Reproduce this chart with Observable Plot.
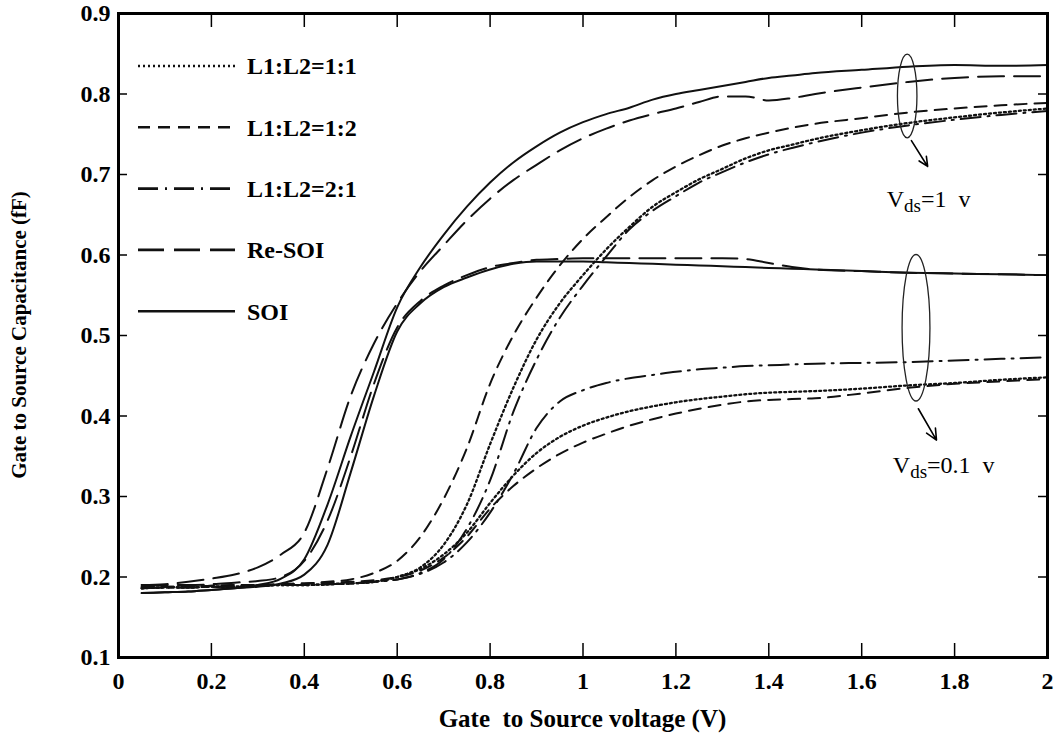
<!DOCTYPE html>
<html><head><meta charset="utf-8">
<script src="https://cdn.jsdelivr.net/npm/d3@7"></script>
<script src="https://cdn.jsdelivr.net/npm/@observablehq/plot@0.6"></script>
<style>
body{margin:0;background:#fff;}
#chart{width:1058px;height:740px;}
</style></head><body><div id="chart"></div>
<script>
// Gate-source voltage grid (V)
const vgs = [0.05,0.1,0.15,0.2,0.25,0.3,0.35,0.4,0.45,0.5,0.55,0.6,0.65,0.7,0.75,0.8,0.85,0.9,0.95,1.0,1.05,1.1,1.15,1.2,1.25,1.3,1.35,1.4,1.45,1.5,1.6,1.7,1.8,1.9,2.0];

// Vds = 1 V
const soi_1   = [0.180,0.181,0.182,0.184,0.186,0.190,0.198,0.222,0.290,0.375,0.455,0.535,0.585,0.625,0.660,0.690,0.715,0.735,0.752,0.765,0.775,0.783,0.793,0.800,0.805,0.810,0.815,0.820,0.823,0.826,0.830,0.834,0.836,0.835,0.836];
const reSoi_1 = [0.190,0.191,0.194,0.198,0.203,0.212,0.228,0.255,0.335,0.425,0.490,0.540,0.580,0.612,0.643,0.670,0.693,0.712,0.730,0.745,0.757,0.767,0.775,0.782,0.790,0.797,0.797,0.792,0.795,0.800,0.808,0.815,0.820,0.822,0.822];
const l11_1   = [0.186,0.187,0.187,0.188,0.188,0.189,0.190,0.190,0.191,0.192,0.194,0.200,0.212,0.240,0.290,0.365,0.435,0.495,0.540,0.575,0.607,0.635,0.660,0.678,0.694,0.707,0.720,0.730,0.737,0.744,0.755,0.764,0.771,0.777,0.782];
const l12_1   = [0.188,0.188,0.188,0.189,0.190,0.190,0.191,0.192,0.194,0.197,0.205,0.220,0.250,0.297,0.360,0.440,0.500,0.547,0.587,0.620,0.647,0.672,0.693,0.710,0.724,0.736,0.745,0.752,0.758,0.763,0.770,0.777,0.782,0.786,0.789];
const l21_1   = [0.186,0.187,0.187,0.188,0.188,0.189,0.190,0.190,0.191,0.192,0.194,0.197,0.205,0.222,0.260,0.320,0.405,0.470,0.522,0.562,0.598,0.632,0.655,0.673,0.690,0.703,0.715,0.725,0.733,0.740,0.752,0.761,0.768,0.774,0.779];

// Vds = 0.1 V
const soi_01   = [0.180,0.181,0.182,0.184,0.186,0.188,0.192,0.203,0.240,0.330,0.425,0.505,0.540,0.560,0.572,0.582,0.589,0.592,0.592,0.592,0.591,0.590,0.589,0.588,0.587,0.586,0.585,0.584,0.583,0.582,0.580,0.578,0.577,0.576,0.575];
const reSoi_01 = [0.190,0.190,0.190,0.191,0.193,0.195,0.200,0.220,0.270,0.350,0.440,0.510,0.543,0.562,0.575,0.585,0.590,0.594,0.595,0.596,0.596,0.596,0.596,0.596,0.596,0.596,0.595,0.590,0.585,0.582,0.580,0.578,0.577,0.576,0.575];
const l11_01   = [0.186,0.187,0.187,0.188,0.188,0.189,0.190,0.190,0.191,0.192,0.194,0.200,0.210,0.228,0.255,0.292,0.326,0.354,0.374,0.388,0.398,0.406,0.412,0.417,0.421,0.424,0.427,0.429,0.430,0.431,0.434,0.438,0.441,0.445,0.448];
const l12_01   = [0.188,0.188,0.188,0.189,0.190,0.190,0.191,0.192,0.193,0.194,0.196,0.200,0.208,0.224,0.250,0.285,0.313,0.335,0.353,0.367,0.378,0.388,0.396,0.403,0.409,0.414,0.418,0.420,0.421,0.422,0.428,0.435,0.440,0.443,0.446];
const l21_01   = [0.186,0.187,0.187,0.188,0.188,0.189,0.190,0.190,0.191,0.192,0.194,0.197,0.204,0.218,0.243,0.280,0.328,0.385,0.418,0.432,0.441,0.447,0.451,0.455,0.458,0.460,0.462,0.463,0.464,0.465,0.466,0.467,0.469,0.471,0.473];

const seriesNames = ["L1:L2=1:1","L1:L2=1:2","L1:L2=2:1","Re-SOI","SOI"];
const seriesDash  = ["2,3","12,8","20,7,2,7","26,10","none"];
const xTicks = [0,0.2,0.4,0.6,0.8,1,1.2,1.4,1.6,1.8,2];
const yTicks = [0.1,0.2,0.3,0.4,0.5,0.6,0.7,0.8,0.9];
const xLabel = "Gate  to Source voltage (V)";
const yLabel = "Gate to Source Capacitance (fF)";

// annotations (data units)
const ellipseCx = [1.699, 1.718];
const ellipseCy = [0.797, 0.509];
const ellipseRx = [0.021, 0.030];
const ellipseRy = [0.052, 0.091];
const arrowX1 = [1.707, 1.722], arrowY1 = [0.742, 0.409];
const arrowX2 = [1.742, 1.761], arrowY2 = [0.710, 0.370];
const annoX = [1.655, 1.668], annoY = [0.659, 0.329];
const annoVal = ["=1  v", "=0.1  v"];

const table = [];
function add(name, vds, arr) { arr.forEach((v, i) => table.push({vgs: vgs[i], cgs: v, name, vds})); }
add("L1:L2=1:1", 1, l11_1); add("L1:L2=1:2", 1, l12_1); add("L1:L2=2:1", 1, l21_1); add("Re-SOI", 1, reSoi_1); add("SOI", 1, soi_1);
add("L1:L2=1:1", 0.1, l11_01); add("L1:L2=1:2", 0.1, l12_01); add("L1:L2=2:1", 0.1, l21_01); add("Re-SOI", 0.1, reSoi_01); add("SOI", 0.1, soi_01);

const W = 1058, H = 740, mL = 118, mR = 11, mT = 13, mB = 83;
const pH = H - mT - mB, pW = W - mL - mR;
const FONT = "'Liberation Serif','Times New Roman',serif";

const lineMarks = [];
for (const vds of [1, 0.1]) {
  seriesNames.forEach((n, i) => {
    lineMarks.push(Plot.line(table.filter(d => d.name === n && d.vds === vds), {
      x: "vgs", y: "cgs", stroke: "#111", strokeWidth: i === 0 ? 2.3 : 2,
      strokeDasharray: seriesDash[i] === "none" ? null : seriesDash[i],
      curve: "monotone-x"
    }));
  });
}

const arrows = arrowX1.map((d, i) => ({x1: d, y1: arrowY1[i], x2: arrowX2[i], y2: arrowY2[i]}));

const plot = Plot.plot({
  width: W, height: H,
  marginLeft: mL, marginRight: mR, marginTop: mT, marginBottom: mB,
  style: {fontFamily: FONT, fontSize: "24px", fontWeight: "bold", color: "#000", background: "#fff"},
  x: {domain: [0, 2], ticks: xTicks, tickSize: 0, tickPadding: 14, tickFormat: d => String(d), label: null},
  y: {domain: [0.1, 0.9], ticks: yTicks, tickSize: 0, tickPadding: 8, tickFormat: d => d.toFixed(1), label: null},
  marks: [
    ...lineMarks,
    Plot.ruleX(xTicks, {x: d => d, insetTop: pH - 14, stroke: "#000", strokeWidth: 1.5}),
    Plot.ruleX(xTicks, {x: d => d, insetBottom: pH - 14, stroke: "#000", strokeWidth: 1.5}),
    Plot.ruleY(yTicks, {y: d => d, insetRight: pW - 9, stroke: "#000", strokeWidth: 1.5}),
    Plot.ruleY(yTicks, {y: d => d, insetLeft: pW - 9, stroke: "#000", strokeWidth: 1.5}),
    Plot.arrow(arrows, {x1: "x1", y1: "y1", x2: "x2", y2: "y2", stroke: "#000", strokeWidth: 1.6, headLength: 12, headAngle: 50}),
    Plot.frame({stroke: "#000", strokeWidth: 3})
  ]
});
document.getElementById("chart").appendChild(plot);

// post-processing: axis titles, ellipses, annotation text with subscripts, legend
const sx = plot.scale("x"), sy = plot.scale("y");
const svg = d3.select(plot);
const g = svg.append("g").attr("text-anchor", "start");
g.append("text").attr("x", mL + pW / 2).attr("y", 727).attr("text-anchor", "middle")
  .attr("font-family", FONT).attr("font-size", 25).attr("font-weight", "bold").attr("fill", "#000").text(xLabel);
g.append("text").attr("transform", `translate(26,${mT + pH / 2}) rotate(-90)`).attr("text-anchor", "middle")
  .attr("font-family", FONT).attr("font-size", 21).attr("font-weight", "bold").attr("fill", "#000").text(yLabel);
ellipseCx.forEach((cx, i) => {
  const px = sx.apply(cx), py = sy.apply(ellipseCy[i]);
  g.append("ellipse").attr("cx", px).attr("cy", py)
    .attr("rx", sx.apply(cx + ellipseRx[i]) - px)
    .attr("ry", py - sy.apply(ellipseCy[i] + ellipseRy[i]))
    .attr("fill", "none").attr("stroke", "#222").attr("stroke-width", 1.3);
});
annoX.forEach((ax, i) => {
  const t = g.append("text").attr("x", sx.apply(ax)).attr("y", sy.apply(annoY[i]))
    .attr("font-family", FONT).attr("font-size", 24).attr("font-weight", "normal").attr("fill", "#000");
  t.append("tspan").text("V");
  t.append("tspan").attr("font-size", 19).attr("dy", 5).text("ds");
  t.append("tspan").attr("dy", -5).text(annoVal[i]);
});
const lg = svg.append("g").attr("transform", `translate(${mL},${mT})`).attr("text-anchor", "start");
seriesNames.forEach((n, i) => {
  const yy = 53 + i * 61.3;
  lg.append("line").attr("x1", 20).attr("x2", 117).attr("y1", yy).attr("y2", yy)
    .attr("stroke", "#111").attr("stroke-width", 2.6)
    .attr("stroke-dasharray", seriesDash[i] === "none" ? null : seriesDash[i]);
  lg.append("text").attr("x", 129).attr("y", yy).attr("dy", "0.35em")
    .attr("font-family", FONT).attr("font-size", 24).attr("font-weight", "bold").attr("fill", "#000").text(n);
});
</script></body></html>
